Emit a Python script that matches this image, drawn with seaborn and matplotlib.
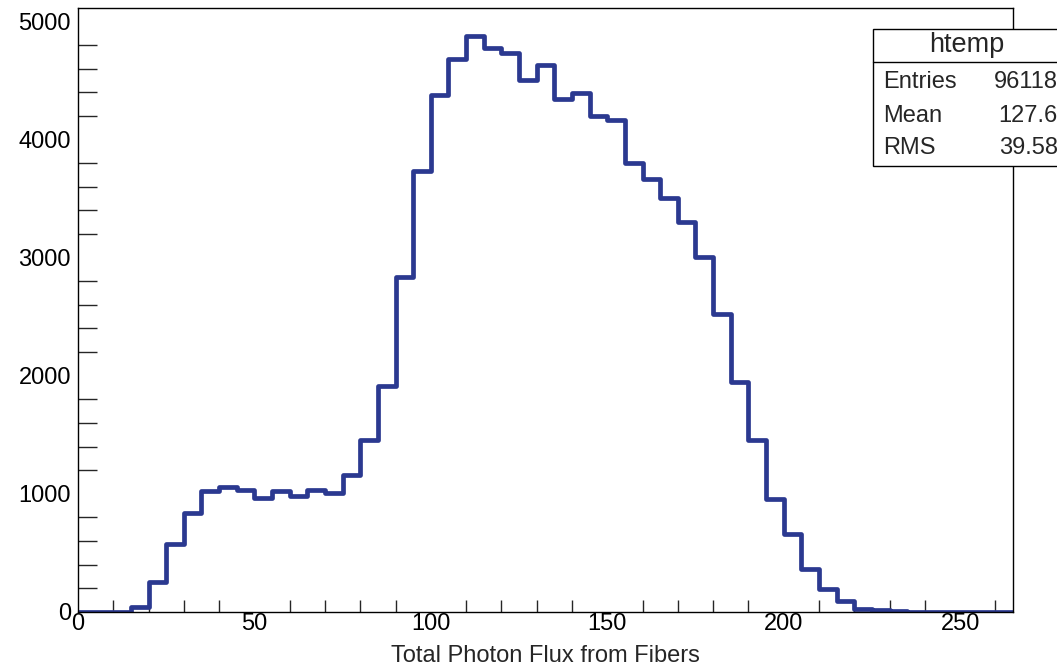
import numpy as np
import pandas as pd
import matplotlib
matplotlib.use("Agg")
import matplotlib.pyplot as plt
from matplotlib.patches import Rectangle
from matplotlib.ticker import MultipleLocator
import seaborn as sns

# ---- data (bin width 5, range 0..265) ----
bin_edges = list(range(0, 270, 5))
counts = [0, 0, 0, 45, 250, 573, 835, 1026, 1055, 1035,
          962, 1024, 981, 1032, 1009, 1159, 1458, 1910, 2838, 3735,
          4378, 4685, 4880, 4775, 4728, 4500, 4630, 4342, 4394, 4196,
          4168, 3800, 3663, 3507, 3302, 3006, 2526, 1947, 1458, 953,
          662, 360, 198, 95, 25, 17, 6, 4, 3, 2,
          1, 1, 1]
x_label = "Total Photon Flux from Fibers"
stats_title = "htemp"
stats_names = ["Entries", "Mean", "RMS"]
stats_values = ["96118", "127.6", "39.58"]
x_ticks = [0, 50, 100, 150, 200, 250]
y_ticks = [0, 1000, 2000, 3000, 4000, 5000]

sns.set_theme(style="white")
plt.rcParams['font.family'] = ['Liberation Sans', 'DejaVu Sans']

centers = [(bin_edges[i] + bin_edges[i + 1]) / 2 for i in range(len(counts))]
df = pd.DataFrame({"x": centers, "w": counts})

fig = plt.figure(figsize=(10.57, 6.69), dpi=100)
ax = fig.add_axes([78 / 1057, 57 / 669, (1013 - 78) / 1057, (612 - 8) / 669])

sns.histplot(data=df, x="x", weights="w", bins=bin_edges, element="step",
             fill=False, color="#2B3990", linewidth=3.4, ax=ax)

ax.set_xlim(0, 265)
ax.set_ylim(0, 5113)
ax.set_xticks(x_ticks)
ax.set_yticks(y_ticks)
ax.xaxis.set_minor_locator(MultipleLocator(10))
ax.yaxis.set_minor_locator(MultipleLocator(200))
ax.tick_params(axis="both", which="major", direction="in", labelsize=17,
               colors="black", width=1)
ax.tick_params(axis="y", which="major", length=28, pad=5)
ax.tick_params(axis="x", which="major", length=18, pad=1)
ax.tick_params(axis="y", which="minor", direction="in", length=14, width=1, left=True)
ax.tick_params(axis="x", which="minor", direction="in", length=9, width=1, bottom=True)
ax.tick_params(top=False, right=False)
ax.set_xlabel(x_label, fontsize=17, labelpad=7)
ax.set_ylabel("")
for s in ax.spines.values():
    s.set_color("black")
    s.set_linewidth(1)

# ---- stats box (figure pixel coordinates) ----
W, H = 1057, 669
def fx(px):
    return px / W
def fy(py):
    return 1 - py / H

box = Rectangle((fx(873), fy(166)), fx(1062) - fx(873), fy(29) - fy(166),
                transform=fig.transFigure, facecolor="white", edgecolor="black",
                linewidth=1, zorder=10, clip_on=False)
fig.patches.append(box)
fig.add_artist(plt.Line2D([fx(873), fx(1062)], [fy(62), fy(62)],
                          transform=fig.transFigure, color="black", linewidth=1, zorder=11))
fig.text(fx(967), fy(45), stats_title, ha="center", va="center", fontsize=19.5, zorder=12)
rows_y = [82, 116, 148]
for name, val, ry in zip(stats_names, stats_values, rows_y):
    fig.text(fx(883), fy(ry), name, ha="left", va="center", fontsize=17, zorder=12)
    fig.text(fx(1058), fy(ry), val, ha="right", va="center", fontsize=17, zorder=12)

fig.savefig("out.png", dpi=100)
